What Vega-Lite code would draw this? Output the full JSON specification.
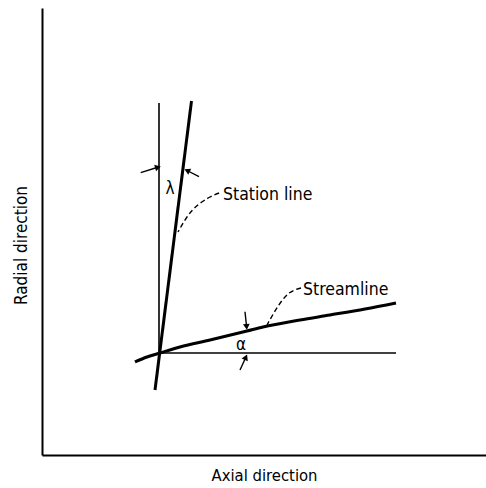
{
  "$schema": "https://vega.github.io/schema/vega-lite/v6.json",
  "width": 444,
  "height": 447,
  "autosize": "none",
  "padding": {"left": 42, "top": 8, "right": 0, "bottom": 33},
  "background": "white",
  "config": {"view": {"stroke": null}, "font": "DejaVu Sans Condensed"},
  "datasets": {
    "lines": [
      {"id": "vline", "o": 1, "x": 117, "y": 352},
      {"id": "vline", "o": 2, "x": 117, "y": 101},
      {"id": "hline", "o": 1, "x": 117, "y": 102},
      {"id": "hline", "o": 2, "x": 354, "y": 102}
    ],
    "thick": [
      {"id": "station", "o": 1, "x": 149.5, "y": 354},
      {"id": "station", "o": 2, "x": 113, "y": 65},
      {"id": "stream", "o": 1, "x": 93, "y": 93},
      {"id": "stream", "o": 2, "x": 105, "y": 98},
      {"id": "stream", "o": 3, "x": 118, "y": 102},
      {"id": "stream", "o": 4, "x": 138, "y": 108},
      {"id": "stream", "o": 5, "x": 168, "y": 115},
      {"id": "stream", "o": 6, "x": 205, "y": 124},
      {"id": "stream", "o": 7, "x": 221, "y": 128},
      {"id": "stream", "o": 8, "x": 258, "y": 135},
      {"id": "stream", "o": 9, "x": 288, "y": 140},
      {"id": "stream", "o": 10, "x": 323, "y": 146},
      {"id": "stream", "o": 11, "x": 354, "y": 152}
    ],
    "leaders": [
      {"id": "sl", "o": 1, "x": 177, "y": 262},
      {"id": "sl", "o": 2, "x": 168, "y": 258},
      {"id": "sl", "o": 3, "x": 145, "y": 238},
      {"id": "sl", "o": 4, "x": 136, "y": 223},
      {"id": "st", "o": 1, "x": 259, "y": 167},
      {"id": "st", "o": 2, "x": 246, "y": 161},
      {"id": "st", "o": 3, "x": 225, "y": 130}
    ],
    "arrows": [
      {"id": "lamL", "o": 1, "x": 98.7, "y": 282.3},
      {"id": "lamL", "o": 2, "x": 115, "y": 287.5},
      {"id": "lamR", "o": 1, "x": 157, "y": 278.3},
      {"id": "lamR", "o": 2, "x": 146, "y": 284},
      {"id": "alT", "o": 1, "x": 203, "y": 143.3},
      {"id": "alT", "o": 2, "x": 204.5, "y": 129},
      {"id": "alB", "o": 1, "x": 198, "y": 85},
      {"id": "alB", "o": 2, "x": 203.5, "y": 97}
    ],
    "labels": [
      {"t": "Station line", "x": 181, "y": 260},
      {"t": "Streamline", "x": 261, "y": 165}
    ],
    "greek": [
      {"t": "λ", "x": 128, "y": 266},
      {"t": "α", "x": 199, "y": 110}
    ]
  },
  "layer": [
    {
      "data": {"name": "lines"},
      "mark": {"type": "line", "color": "black", "strokeWidth": 1.6},
      "encoding": {
        "x": {"field": "x", "type": "quantitative", "scale": {"domain": [0, 444], "nice": false, "zero": false},
          "axis": {"title": "Axial direction", "ticks": false, "labels": false, "grid": false, "domainColor": "black", "domainWidth": 2, "titleFontSize": 16.5, "titleFontWeight": "normal", "titleColor": "black", "titlePadding": 12}},
        "y": {"field": "y", "type": "quantitative", "scale": {"domain": [0, 447], "nice": false, "zero": false},
          "axis": {"title": "Radial direction", "ticks": false, "labels": false, "grid": false, "domainColor": "black", "domainWidth": 2, "titleFontSize": 17, "titleFontWeight": "normal", "titleColor": "black", "titlePadding": 12, "titleY": 237}},
        "detail": {"field": "id"},
        "order": {"field": "o"}
      }
    },
    {
      "data": {"name": "thick"},
      "mark": {"type": "line", "color": "black", "strokeWidth": 3, "interpolate": "monotone"},
      "encoding": {
        "x": {"field": "x", "type": "quantitative"},
        "y": {"field": "y", "type": "quantitative"},
        "detail": {"field": "id"},
        "order": {"field": "o"}
      }
    },
    {
      "data": {"name": "leaders"},
      "mark": {"type": "line", "color": "black", "strokeWidth": 1.4, "strokeDash": [5, 3], "interpolate": "monotone"},
      "encoding": {
        "x": {"field": "x", "type": "quantitative"},
        "y": {"field": "y", "type": "quantitative"},
        "detail": {"field": "id"},
        "order": {"field": "o"}
      }
    },
    {
      "data": {"name": "arrows"},
      "mark": {"type": "line", "color": "black", "strokeWidth": 1.4},
      "encoding": {
        "x": {"field": "x", "type": "quantitative"},
        "y": {"field": "y", "type": "quantitative"},
        "detail": {"field": "id"},
        "order": {"field": "o"}
      }
    },
    {
      "data": {"name": "arrows"},
      "transform": [{"filter": "datum.id === 'lamL' && datum.o === 2"}],
      "mark": {"type": "point", "shape": "triangle", "filled": true, "color": "black", "size": 45, "angle": 74, "opacity": 1},
      "encoding": {"x": {"field": "x", "type": "quantitative"}, "y": {"field": "y", "type": "quantitative"}}
    },
    {
      "data": {"name": "arrows"},
      "transform": [{"filter": "datum.id === 'lamR' && datum.o === 2"}],
      "mark": {"type": "point", "shape": "triangle", "filled": true, "color": "black", "size": 45, "angle": 296, "opacity": 1},
      "encoding": {"x": {"field": "x", "type": "quantitative"}, "y": {"field": "y", "type": "quantitative"}}
    },
    {
      "data": {"name": "arrows"},
      "transform": [{"filter": "datum.id === 'alT' && datum.o === 2"}],
      "mark": {"type": "point", "shape": "triangle", "filled": true, "color": "black", "size": 45, "angle": 175, "opacity": 1},
      "encoding": {"x": {"field": "x", "type": "quantitative"}, "y": {"field": "y", "type": "quantitative"}}
    },
    {
      "data": {"name": "arrows"},
      "transform": [{"filter": "datum.id === 'alB' && datum.o === 2"}],
      "mark": {"type": "point", "shape": "triangle", "filled": true, "color": "black", "size": 45, "angle": 24, "opacity": 1},
      "encoding": {"x": {"field": "x", "type": "quantitative"}, "y": {"field": "y", "type": "quantitative"}}
    },
    {
      "data": {"name": "labels"},
      "mark": {"type": "text", "align": "left", "baseline": "middle", "fontSize": 17.5, "color": "black"},
      "encoding": {"x": {"field": "x", "type": "quantitative"}, "y": {"field": "y", "type": "quantitative"}, "text": {"field": "t"}}
    },
    {
      "data": {"name": "greek"},
      "mark": {"type": "text", "align": "center", "baseline": "middle", "fontSize": 17, "color": "black"},
      "encoding": {"x": {"field": "x", "type": "quantitative"}, "y": {"field": "y", "type": "quantitative"}, "text": {"field": "t"}}
    }
  ]
}
